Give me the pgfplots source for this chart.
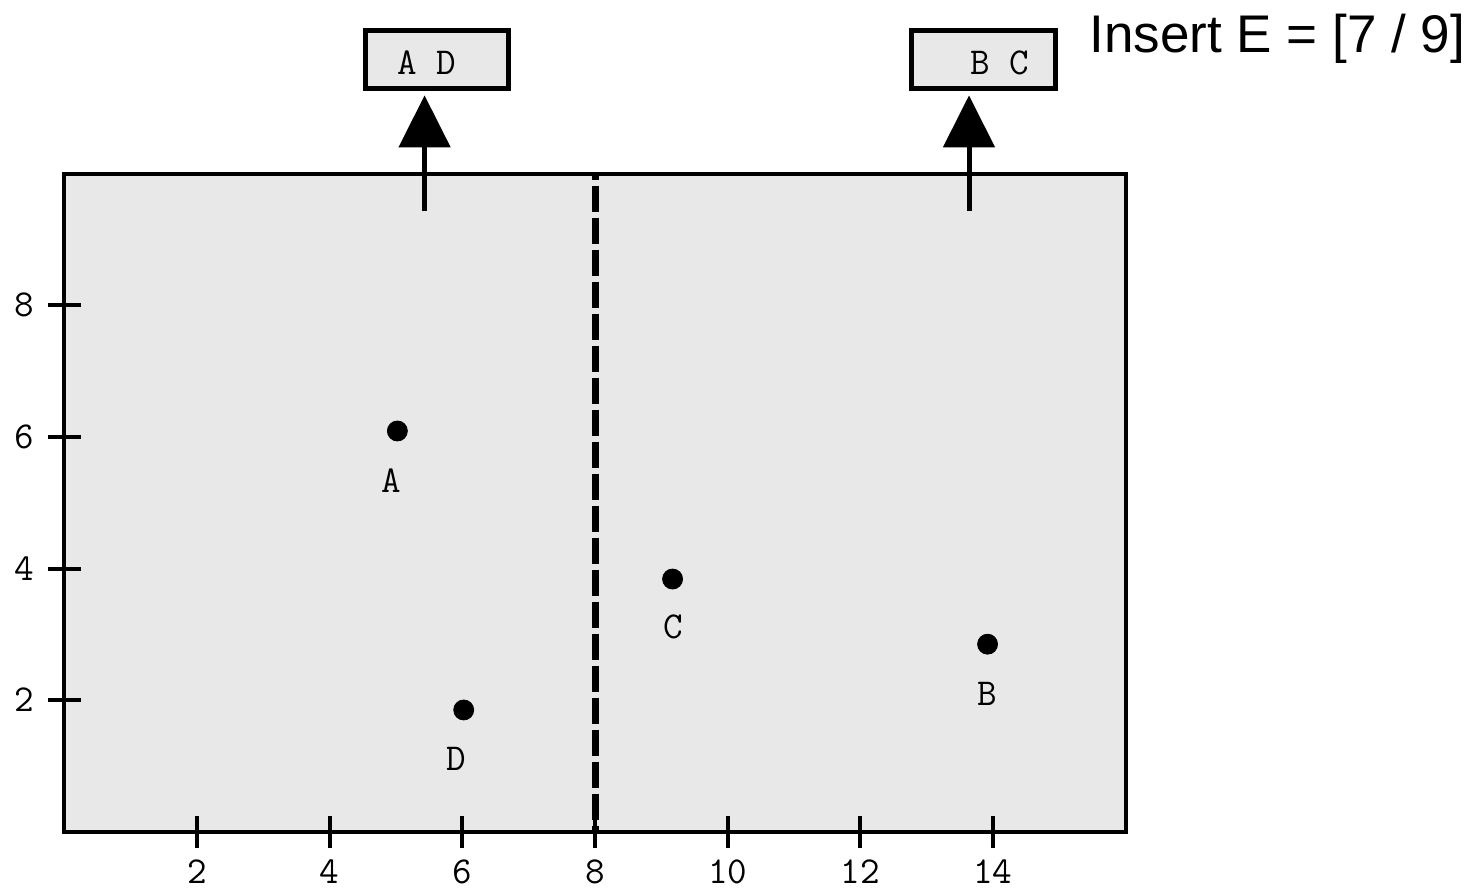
\documentclass[border=0pt]{standalone}
\usepackage{fontspec}
\newfontfamily\sansfont{Liberation Sans}
\usepackage{pgfplots}
\pgfplotsset{compat=1.18}
\usetikzlibrary{arrows.meta}
\definecolor{panel}{HTML}{E8E8E8}
\newcommand\labfont{\ttfamily\fontsize{19}{21}\selectfont}

\begin{document}
\begin{tikzpicture}
\begin{axis}[
  scale only axis,
  width=530.5pt, height=329pt,
  xmin=0, xmax=16, ymin=0, ymax=10,
  xtick={2,4,...,14}, ytick={2,4,6,8},
  tick pos=left,
  tick align=center,
  major tick length=16pt,
  major tick style={line width=2pt, black},
  axis line style={line width=2pt},
  axis background/.style={fill=panel},
  /pgf/number format/assume math mode=true,
  ticklabel style={font=\labfont, inner sep=0pt},
  xticklabel style={anchor=north, yshift=-6pt},
  yticklabel style={anchor=east, xshift=-7pt},
  clip=false,
]
% points
\addplot[only marks, mark=*, mark size=5pt, black]
  coordinates {(5.02,6.09) (13.92,2.85) (9.17,3.84) (6.02,1.85)};
% split line
\addplot[black, line width=3.5pt, dash pattern=on 13pt off 3pt, dash phase=10pt]
  coordinates {(8,10) (8,0)};

\node at (axis cs:4.93,5.34) {\labfont A};
\node at (axis cs:13.92,2.09) {\labfont B};
\node at (axis cs:9.18,3.11) {\labfont C};
\node at (axis cs:5.91,1.10) {\labfont D};

% arrows and boxes
\draw[line width=2.5pt, -{Triangle[length=26pt, width=25.5pt]}]
  (axis cs:5.43,9.44) -- (axis cs:5.43,11.19);
\draw[line width=2.5pt, -{Triangle[length=26pt, width=25.5pt]}]
  (axis cs:13.64,9.44) -- (axis cs:13.64,11.19);
\draw[line width=2.5pt, fill=panel] (axis cs:4.54,11.30) rectangle (axis cs:6.70,12.18);
\draw[line width=2.5pt, fill=panel] (axis cs:12.77,11.30) rectangle (axis cs:14.94,12.18);
\node at (axis cs:5.46,11.69) {\labfont A D};
\node at (axis cs:14.11,11.69) {\labfont B C};

\node[anchor=base, font=\sansfont\fontsize{26.5}{30}\selectfont]
  at (axis cs:18.29,11.84) {Insert E = [7 / 9]};

\coordinate (o) at (axis cs:0,0);
\end{axis}
\pgfresetboundingbox
\path ([shift={(-32.25pt,-29.15pt)}]o) rectangle ([shift={(704.25pt,415.85pt)}]o);
\end{tikzpicture}
\end{document}
